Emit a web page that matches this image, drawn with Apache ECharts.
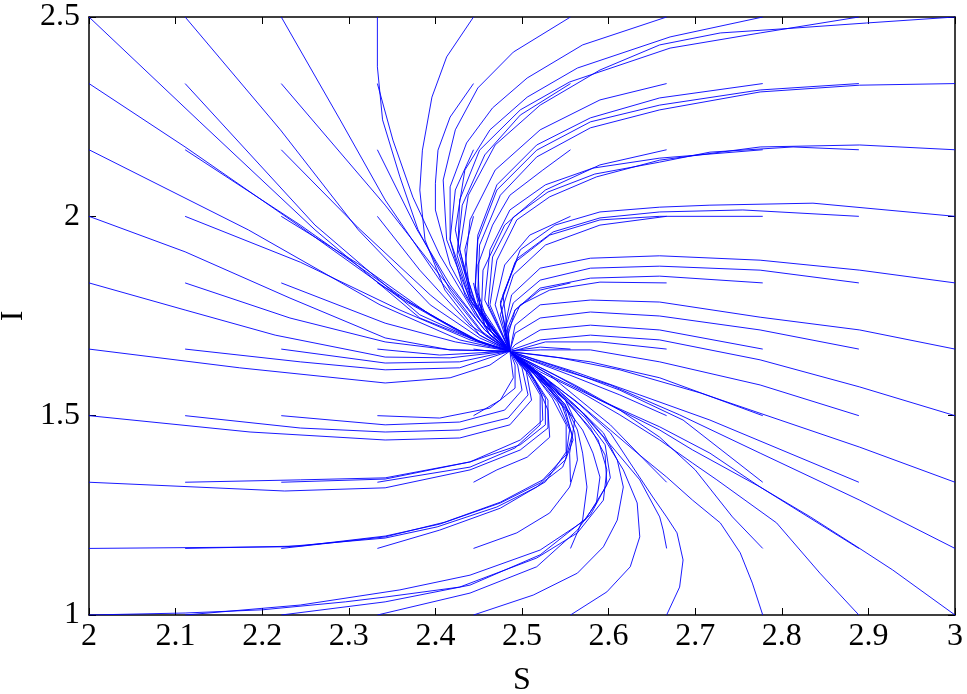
<!DOCTYPE html>
<html>
<head>
<meta charset="utf-8">
<script src="https://cdn.jsdelivr.net/npm/echarts@6/dist/echarts.min.js"></script>
<style>
  html, body { margin: 0; padding: 0; background: #fff; }
  #chart { width: 967px; height: 694px; }
</style>
</head>
<body>
<div id="chart"></div>
<script>
// axis ticks
const sTicks = [2, 2.1, 2.2, 2.3, 2.4, 2.5, 2.6, 2.7, 2.8, 2.9, 3]
const iTicks = [1, 1.5, 2, 2.5]

// trajectories, one list per starting row of I, each path is [S, I] pairs
const pathsI250 = [
  [[2,2.5],[2.128,2.237],[2.261,1.966],[2.382,1.745],[2.451,1.685],[2.486,1.662]],
  [[2.111,2.5],[2.221,2.217],[2.311,1.966],[2.394,1.778],[2.451,1.695],[2.486,1.662]],
  [[2.222,2.5],[2.290,2.242],[2.342,2.041],[2.405,1.840],[2.451,1.715],[2.486,1.662]],
  [[2.333,2.5],[2.333,2.375],[2.339,2.242],[2.359,2.099],[2.380,1.966],[2.417,1.815],[2.457,1.702],[2.486,1.662]],
  [[2.444,2.5],[2.413,2.400],[2.396,2.299],[2.385,2.166],[2.382,2.066],[2.388,1.941],[2.411,1.815],[2.451,1.702],[2.486,1.662]],
  [[2.556,2.5],[2.490,2.412],[2.449,2.322],[2.423,2.217],[2.409,2.091],[2.413,1.941],[2.440,1.790],[2.486,1.662]],
  [[2.667,2.5],[2.570,2.430],[2.506,2.347],[2.466,2.272],[2.436,2.184],[2.417,2.074],[2.417,1.941],[2.440,1.790],[2.486,1.662]],
  [[2.778,2.5],[2.671,2.450],[2.564,2.372],[2.506,2.299],[2.463,2.217],[2.434,2.116],[2.423,1.966],[2.440,1.803],[2.486,1.662]],
  [[2.889,2.5],[2.775,2.460],[2.671,2.422],[2.555,2.337],[2.498,2.267],[2.451,2.166],[2.428,2.041],[2.426,1.916],[2.443,1.790],[2.486,1.662]],
  [[3,2.5],[2.898,2.485],[2.813,2.472],[2.729,2.460],[2.659,2.430],[2.590,2.367],[2.521,2.279],[2.469,2.179],[2.438,2.053],[2.428,1.916],[2.446,1.778],[2.486,1.662]]
]
const pathsI233 = [
  [[2,2.333],[2.111,2.174],[2.246,1.971],[2.359,1.795],[2.440,1.695],[2.486,1.662]],
  [[2.111,2.333],[2.261,1.978],[2.382,1.753],[2.451,1.685],[2.486,1.662]],
  [[2.222,2.333],[2.342,2.028],[2.405,1.853],[2.457,1.715],[2.486,1.662]],
  [[2.333,2.333],[2.351,2.191],[2.374,2.048],[2.405,1.903],[2.446,1.753],[2.486,1.662]],
  [[2.444,2.333],[2.417,2.249],[2.403,2.166],[2.400,2.083],[2.400,2.016],[2.417,1.878],[2.451,1.740],[2.486,1.662]],
  [[2.556,2.333],[2.498,2.254],[2.457,2.154],[2.431,2.028],[2.425,1.903],[2.443,1.778],[2.486,1.662]],
  [[2.667,2.333],[2.590,2.292],[2.521,2.217],[2.469,2.116],[2.440,1.991],[2.434,1.865],[2.451,1.753],[2.486,1.662]],
  [[2.778,2.333],[2.659,2.297],[2.579,2.247],[2.517,2.179],[2.471,2.079],[2.449,1.953],[2.446,1.828],[2.457,1.727],[2.486,1.662]],
  [[2.889,2.333],[2.775,2.317],[2.659,2.279],[2.579,2.237],[2.517,2.166],[2.471,2.066],[2.449,1.941],[2.446,1.815],[2.461,1.720],[2.486,1.662]],
  [[3,2.333],[2.890,2.329],[2.775,2.312],[2.659,2.267],[2.579,2.222],[2.517,2.149],[2.475,2.053],[2.451,1.928],[2.449,1.810],[2.463,1.715],[2.486,1.662]]
]
const pathsI217 = [
  [[2,2.167],[2.184,1.966],[2.336,1.778],[2.428,1.690],[2.486,1.662]],
  [[2.111,2.167],[2.244,1.978],[2.371,1.783],[2.446,1.690],[2.486,1.662]],
  [[2.222,2.167],[2.311,1.971],[2.394,1.803],[2.451,1.702],[2.486,1.662]],
  [[2.333,2.167],[2.379,1.966],[2.417,1.828],[2.457,1.715],[2.486,1.662]],
  [[2.444,2.167],[2.423,2.066],[2.417,1.941],[2.434,1.803],[2.463,1.702],[2.486,1.662]],
  [[2.556,2.167],[2.524,2.116],[2.486,2.053],[2.466,1.978],[2.449,1.878],[2.451,1.778],[2.486,1.662]],
  [[2.667,2.167],[2.590,2.129],[2.527,2.066],[2.480,1.978],[2.455,1.865],[2.453,1.753],[2.486,1.662]],
  [[2.778,2.167],[2.659,2.146],[2.582,2.121],[2.527,2.079],[2.486,2.016],[2.463,1.916],[2.457,1.790],[2.486,1.662]],
  [[2.889,2.167],[2.813,2.174],[2.717,2.161],[2.659,2.136],[2.584,2.106],[2.530,2.061],[2.490,1.998],[2.466,1.898],[2.461,1.778],[2.486,1.662]],
  [[3,2.167],[2.890,2.179],[2.775,2.174],[2.659,2.141],[2.586,2.099],[2.532,2.049],[2.494,1.991],[2.471,1.890],[2.463,1.778],[2.486,1.662]]
]
const pathsI200 = [
  [[2,2.0],[2.111,1.911],[2.232,1.795],[2.342,1.695],[2.417,1.665],[2.486,1.662]],
  [[2.111,2.0],[2.244,1.885],[2.359,1.765],[2.440,1.690],[2.486,1.662]],
  [[2.222,2.0],[2.313,1.878],[2.394,1.753],[2.451,1.685],[2.486,1.662]],
  [[2.333,2.0],[2.382,1.865],[2.440,1.727],[2.486,1.662]],
  [[2.444,2.0],[2.434,1.916],[2.440,1.803],[2.463,1.702],[2.486,1.662]],
  [[2.556,2.0],[2.509,1.953],[2.480,1.878],[2.469,1.778],[2.486,1.662]],
  [[2.667,2.0],[2.590,1.978],[2.527,1.928],[2.490,1.853],[2.475,1.753],[2.486,1.662]],
  [[2.778,2.0],[2.659,2.0],[2.590,1.991],[2.532,1.953],[2.492,1.885],[2.475,1.778],[2.486,1.662]],
  [[2.889,2.0],[2.755,2.016],[2.659,2.011],[2.590,1.996],[2.536,1.961],[2.495,1.895],[2.475,1.785],[2.486,1.662]],
  [[3,2.0],[2.836,2.033],[2.717,2.028],[2.659,2.023],[2.590,2.011],[2.538,1.978],[2.498,1.916],[2.478,1.803],[2.486,1.662]]
]
const pathsI183 = [
  [[2,1.833],[2.111,1.765],[2.215,1.702],[2.342,1.647],[2.417,1.645],[2.486,1.662]],
  [[2.111,1.833],[2.232,1.745],[2.342,1.685],[2.417,1.665],[2.486,1.662]],
  [[2.222,1.833],[2.342,1.732],[2.423,1.685],[2.486,1.662]],
  [[2.333,1.833],[2.405,1.740],[2.457,1.680],[2.486,1.662]],
  [[2.444,1.833],[2.451,1.765],[2.469,1.695],[2.486,1.662]],
  [[2.556,1.833],[2.521,1.815],[2.492,1.765],[2.480,1.702],[2.486,1.662]],
  [[2.667,1.833],[2.590,1.835],[2.532,1.815],[2.498,1.778],[2.484,1.715],[2.486,1.662]],
  [[2.778,1.833],[2.659,1.850],[2.579,1.845],[2.521,1.820],[2.492,1.765],[2.484,1.702],[2.486,1.662]],
  [[2.889,1.833],[2.775,1.865],[2.659,1.875],[2.579,1.870],[2.521,1.840],[2.490,1.783],[2.480,1.715],[2.486,1.662]],
  [[3,1.833],[2.890,1.865],[2.775,1.890],[2.659,1.901],[2.579,1.895],[2.521,1.870],[2.488,1.803],[2.480,1.720],[2.486,1.662]]
]
const pathsI167 = [
  [[2,1.667],[2.174,1.620],[2.342,1.582],[2.417,1.595],[2.463,1.627],[2.486,1.662]],
  [[2.111,1.667],[2.244,1.635],[2.342,1.615],[2.428,1.620],[2.486,1.662]],
  [[2.222,1.667],[2.342,1.632],[2.428,1.635],[2.486,1.662]],
  [[2.333,1.667],[2.405,1.652],[2.486,1.662]],
  [[2.444,1.667],[2.469,1.660],[2.486,1.662]],
  [[2.556,1.667],[2.521,1.672],[2.486,1.662]],
  [[2.667,1.667],[2.590,1.685],[2.527,1.685],[2.490,1.662]],
  [[2.778,1.667],[2.659,1.715],[2.579,1.727],[2.521,1.715],[2.492,1.678],[2.486,1.662]],
  [[2.889,1.667],[2.775,1.715],[2.659,1.750],[2.579,1.760],[2.521,1.745],[2.492,1.707],[2.486,1.662]],
  [[3,1.667],[2.890,1.715],[2.775,1.747],[2.659,1.785],[2.579,1.790],[2.521,1.778],[2.492,1.727],[2.486,1.662]]
]
const pathsI150 = [
  [[2,1.5],[2.186,1.459],[2.342,1.439],[2.428,1.444],[2.486,1.477],[2.511,1.539],[2.505,1.610],[2.488,1.657]],
  [[2.111,1.5],[2.244,1.469],[2.342,1.459],[2.428,1.464],[2.484,1.494],[2.507,1.552],[2.500,1.620],[2.486,1.662]],
  [[2.222,1.5],[2.342,1.477],[2.428,1.484],[2.480,1.514],[2.500,1.564],[2.495,1.627],[2.486,1.662]],
  [[2.333,1.5],[2.405,1.494],[2.463,1.519],[2.492,1.569],[2.492,1.627],[2.486,1.662]],
  [[2.444,1.5],[2.475,1.539],[2.490,1.595],[2.486,1.662]],
  [[2.556,1.5],[2.538,1.552],[2.515,1.615],[2.488,1.660]],
  [[2.667,1.5],[2.613,1.552],[2.555,1.602],[2.509,1.640],[2.488,1.660]],
  [[2.778,1.5],[2.659,1.595],[2.579,1.635],[2.521,1.652],[2.488,1.660]],
  [[2.889,1.5],[2.775,1.577],[2.659,1.635],[2.579,1.665],[2.521,1.665],[2.488,1.662]],
  [[3,1.5],[2.890,1.572],[2.775,1.640],[2.659,1.690],[2.579,1.702],[2.521,1.690],[2.488,1.665]]
]
const pathsI133 = [
  [[2,1.333],[2.226,1.311],[2.342,1.319],[2.440,1.364],[2.498,1.414],[2.530,1.469],[2.530,1.539],[2.509,1.610],[2.486,1.662]],
  [[2.111,1.333],[2.244,1.339],[2.342,1.344],[2.440,1.384],[2.498,1.427],[2.527,1.477],[2.527,1.544],[2.507,1.615],[2.486,1.662]],
  [[2.222,1.333],[2.342,1.341],[2.440,1.384],[2.498,1.439],[2.524,1.489],[2.523,1.552],[2.506,1.615],[2.486,1.662]],
  [[2.333,1.333],[2.440,1.371],[2.492,1.419],[2.521,1.477],[2.521,1.552],[2.504,1.615],[2.486,1.662]],
  [[2.444,1.333],[2.471,1.364],[2.506,1.396],[2.532,1.446],[2.530,1.514],[2.515,1.589],[2.488,1.657]],
  [[2.556,1.333],[2.555,1.406],[2.561,1.489],[2.550,1.539],[2.527,1.595],[2.488,1.657]],
  [[2.667,1.333],[2.636,1.401],[2.602,1.477],[2.567,1.539],[2.532,1.602],[2.488,1.657]],
  [[2.778,1.333],[2.686,1.489],[2.613,1.564],[2.550,1.615],[2.488,1.660]],
  [[2.889,1.333],[2.717,1.489],[2.636,1.552],[2.561,1.610],[2.488,1.660]],
  [[3,1.333],[2.890,1.421],[2.798,1.489],[2.706,1.557],[2.613,1.615],[2.544,1.645],[2.488,1.660]]
]
const pathsI117 = [
  [[2,1.167],[2.226,1.171],[2.342,1.193],[2.402,1.221],[2.471,1.271],[2.517,1.321],[2.547,1.371],[2.559,1.439],[2.550,1.514],[2.521,1.595],[2.488,1.657]],
  [[2.111,1.167],[2.244,1.173],[2.342,1.198],[2.405,1.228],[2.475,1.281],[2.521,1.331],[2.550,1.389],[2.558,1.452],[2.546,1.527],[2.518,1.600],[2.488,1.657]],
  [[2.222,1.167],[2.342,1.196],[2.411,1.233],[2.475,1.283],[2.524,1.339],[2.551,1.402],[2.555,1.464],[2.541,1.534],[2.515,1.602],[2.488,1.657]],
  [[2.333,1.167],[2.405,1.213],[2.475,1.268],[2.527,1.334],[2.551,1.409],[2.551,1.477],[2.535,1.544],[2.512,1.610],[2.488,1.657]],
  [[2.444,1.167],[2.494,1.206],[2.532,1.256],[2.555,1.321],[2.564,1.389],[2.561,1.457],[2.550,1.527],[2.521,1.600],[2.488,1.657]],
  [[2.556,1.167],[2.570,1.238],[2.575,1.321],[2.570,1.406],[2.564,1.464],[2.550,1.527],[2.521,1.600],[2.488,1.657]],
  [[2.667,1.167],[2.663,1.213],[2.659,1.246],[2.636,1.339],[2.602,1.427],[2.573,1.502],[2.538,1.565],[2.488,1.657]],
  [[2.778,1.167],[2.743,1.246],[2.700,1.364],[2.659,1.446],[2.613,1.514],[2.561,1.577],[2.488,1.657]],
  [[2.889,1.167],[2.775,1.321],[2.697,1.414],[2.659,1.464],[2.590,1.539],[2.538,1.595],[2.488,1.657]],
  [[3,1.167],[2.890,1.288],[2.775,1.406],[2.682,1.502],[2.602,1.577],[2.538,1.620],[2.488,1.657]]
]
const pathsI100 = [
  [[2,1.0],[2.111,1.005],[2.200,1.013],[2.296,1.033],[2.342,1.045],[2.428,1.070],[2.517,1.143],[2.564,1.206],[2.594,1.288],[2.598,1.364],[2.588,1.439],[2.561,1.514],[2.527,1.589],[2.488,1.657]],
  [[2.111,1.0],[2.244,1.025],[2.359,1.063],[2.440,1.100],[2.521,1.163],[2.573,1.238],[2.598,1.326],[2.596,1.401],[2.579,1.469],[2.550,1.539],[2.515,1.602],[2.488,1.657]],
  [[2.222,1.0],[2.342,1.033],[2.440,1.075],[2.521,1.151],[2.579,1.251],[2.602,1.344],[2.596,1.427],[2.573,1.494],[2.538,1.564],[2.488,1.657]],
  [[2.333,1.0],[2.440,1.055],[2.517,1.121],[2.564,1.213],[2.586,1.281],[2.590,1.346],[2.582,1.406],[2.570,1.464],[2.544,1.539],[2.515,1.602],[2.488,1.657]],
  [[2.444,1.0],[2.513,1.050],[2.564,1.105],[2.594,1.171],[2.610,1.238],[2.617,1.321],[2.610,1.389],[2.594,1.457],[2.561,1.527],[2.521,1.600],[2.488,1.657]],
  [[2.556,1.0],[2.598,1.058],[2.625,1.121],[2.636,1.196],[2.633,1.281],[2.617,1.364],[2.594,1.446],[2.567,1.514],[2.527,1.595],[2.488,1.657]],
  [[2.667,1.0],[2.682,1.070],[2.686,1.138],[2.679,1.206],[2.667,1.246],[2.651,1.296],[2.625,1.381],[2.602,1.457],[2.567,1.527],[2.527,1.595],[2.488,1.657]],
  [[2.778,1.0],[2.766,1.080],[2.752,1.156],[2.729,1.231],[2.697,1.288],[2.667,1.346],[2.636,1.401],[2.602,1.464],[2.561,1.539],[2.521,1.602],[2.488,1.657]],
  [[2.889,1.0],[2.844,1.105],[2.794,1.231],[2.725,1.339],[2.697,1.381],[2.659,1.439],[2.613,1.502],[2.567,1.560],[2.521,1.610],[2.488,1.657]],
  [[3,1.0],[2.928,1.113],[2.887,1.171],[2.833,1.246],[2.775,1.321],[2.717,1.406],[2.659,1.472],[2.590,1.539],[2.538,1.602],[2.488,1.657]]
]

const allPaths = [].concat(pathsI250, pathsI233, pathsI217, pathsI200, pathsI183,
  pathsI167, pathsI150, pathsI133, pathsI117, pathsI100)

const font = 'Liberation Serif'
const chart = echarts.init(document.getElementById('chart'))

const axisBase = {
  type: 'value',
  axisLine: { show: true, onZero: false, lineStyle: { color: '#000', width: 1.5 } },
  axisTick: { show: true, inside: true, length: 7, lineStyle: { color: '#000', width: 1 } },
  splitLine: { show: false }
}

chart.setOption({
  animation: false,
  backgroundColor: '#fff',
  grid: { left: 89, right: 12, top: 17, bottom: 79, containLabel: false, outerBoundsMode: 'none' },
  xAxis: [
    Object.assign({}, axisBase, {
      min: 2, max: 3, interval: 0.1, position: 'bottom',
      name: 'S', nameLocation: 'middle', nameGap: 50,
      nameTextStyle: { fontFamily: font, fontSize: 32, color: '#000' },
      axisLabel: { fontFamily: font, fontSize: 32, color: '#000', margin: 6,
        formatter: v => String(+v.toFixed(1)) }
    }),
    Object.assign({}, axisBase, {
      min: 2, max: 3, interval: 0.1, position: 'top', axisLabel: { show: false }
    })
  ],
  yAxis: [
    Object.assign({}, axisBase, {
      min: 1, max: 2.5, interval: 0.5, position: 'left',
      name: 'I', nameLocation: 'middle', nameGap: 58, nameRotate: 90,
      nameTextStyle: { fontFamily: font, fontSize: 32, color: '#000' },
      axisLabel: { fontFamily: font, fontSize: 32, color: '#000', margin: 9,
        formatter: v => String(+v.toFixed(1)) }
    }),
    Object.assign({}, axisBase, {
      min: 1, max: 2.5, interval: 0.5, position: 'right', axisLabel: { show: false }
    })
  ],
  series: allPaths.map(p => ({
    type: 'line',
    data: p,
    showSymbol: false,
    smooth: false,
    silent: true,
    clip: true,
    lineStyle: { color: '#0000ff', width: 0.9 }
  }))
})
</script>
</body>
</html>
